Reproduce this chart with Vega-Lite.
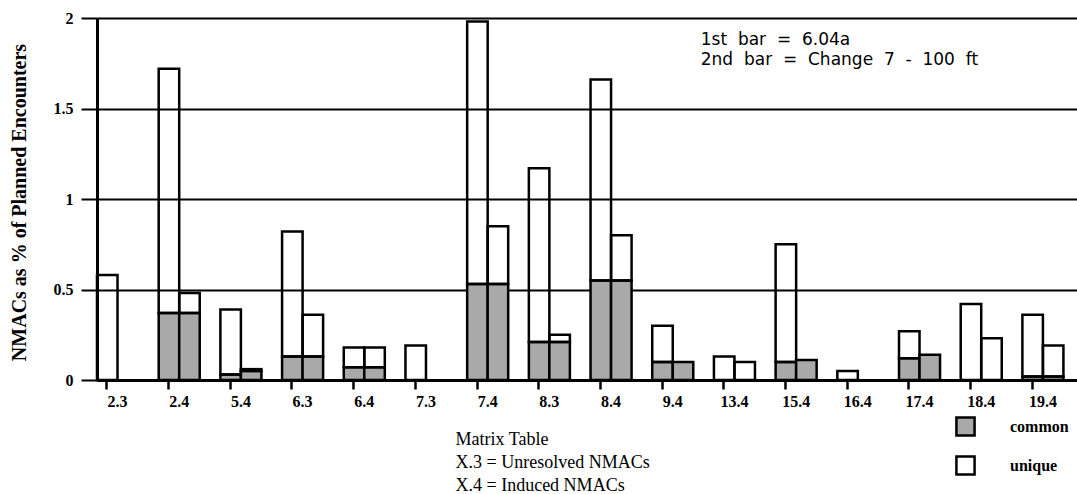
{
  "$schema": "https://vega.github.io/schema/vega-lite/v6.json",
  "width": 980,
  "height": 362,
  "autosize": "none",
  "padding": {"left": 97, "top": 18, "right": 0, "bottom": 114},
  "background": "white",
  "config": {"view": {"stroke": null}, "font": "Liberation Serif"},
  "data": {
    "values": [
      {"matrix": "2.3", "bar": "1st", "type": "unique", "value": 0.58},
      {"matrix": "2.4", "bar": "1st", "type": "common", "value": 0.37},
      {"matrix": "2.4", "bar": "1st", "type": "unique", "value": 1.35},
      {"matrix": "2.4", "bar": "2nd", "type": "common", "value": 0.37},
      {"matrix": "2.4", "bar": "2nd", "type": "unique", "value": 0.11},
      {"matrix": "5.4", "bar": "1st", "type": "common", "value": 0.03},
      {"matrix": "5.4", "bar": "1st", "type": "unique", "value": 0.36},
      {"matrix": "5.4", "bar": "2nd", "type": "common", "value": 0.05},
      {"matrix": "5.4", "bar": "2nd", "type": "unique", "value": 0.01},
      {"matrix": "6.3", "bar": "1st", "type": "common", "value": 0.13},
      {"matrix": "6.3", "bar": "1st", "type": "unique", "value": 0.69},
      {"matrix": "6.3", "bar": "2nd", "type": "common", "value": 0.13},
      {"matrix": "6.3", "bar": "2nd", "type": "unique", "value": 0.23},
      {"matrix": "6.4", "bar": "1st", "type": "common", "value": 0.07},
      {"matrix": "6.4", "bar": "1st", "type": "unique", "value": 0.11},
      {"matrix": "6.4", "bar": "2nd", "type": "common", "value": 0.07},
      {"matrix": "6.4", "bar": "2nd", "type": "unique", "value": 0.11},
      {"matrix": "7.3", "bar": "1st", "type": "unique", "value": 0.19},
      {"matrix": "7.4", "bar": "1st", "type": "common", "value": 0.53},
      {"matrix": "7.4", "bar": "1st", "type": "unique", "value": 1.45},
      {"matrix": "7.4", "bar": "2nd", "type": "common", "value": 0.53},
      {"matrix": "7.4", "bar": "2nd", "type": "unique", "value": 0.32},
      {"matrix": "8.3", "bar": "1st", "type": "common", "value": 0.21},
      {"matrix": "8.3", "bar": "1st", "type": "unique", "value": 0.96},
      {"matrix": "8.3", "bar": "2nd", "type": "common", "value": 0.21},
      {"matrix": "8.3", "bar": "2nd", "type": "unique", "value": 0.04},
      {"matrix": "8.4", "bar": "1st", "type": "common", "value": 0.55},
      {"matrix": "8.4", "bar": "1st", "type": "unique", "value": 1.11},
      {"matrix": "8.4", "bar": "2nd", "type": "common", "value": 0.55},
      {"matrix": "8.4", "bar": "2nd", "type": "unique", "value": 0.25},
      {"matrix": "9.4", "bar": "1st", "type": "common", "value": 0.1},
      {"matrix": "9.4", "bar": "1st", "type": "unique", "value": 0.2},
      {"matrix": "9.4", "bar": "2nd", "type": "common", "value": 0.1},
      {"matrix": "13.4", "bar": "1st", "type": "unique", "value": 0.13},
      {"matrix": "13.4", "bar": "2nd", "type": "unique", "value": 0.1},
      {"matrix": "15.4", "bar": "1st", "type": "common", "value": 0.1},
      {"matrix": "15.4", "bar": "1st", "type": "unique", "value": 0.65},
      {"matrix": "15.4", "bar": "2nd", "type": "common", "value": 0.11},
      {"matrix": "16.4", "bar": "1st", "type": "unique", "value": 0.05},
      {"matrix": "17.4", "bar": "1st", "type": "common", "value": 0.12},
      {"matrix": "17.4", "bar": "1st", "type": "unique", "value": 0.15},
      {"matrix": "17.4", "bar": "2nd", "type": "common", "value": 0.14},
      {"matrix": "18.4", "bar": "1st", "type": "unique", "value": 0.42},
      {"matrix": "18.4", "bar": "2nd", "type": "unique", "value": 0.23},
      {"matrix": "19.4", "bar": "1st", "type": "common", "value": 0.02},
      {"matrix": "19.4", "bar": "1st", "type": "unique", "value": 0.34},
      {"matrix": "19.4", "bar": "2nd", "type": "common", "value": 0.02},
      {"matrix": "19.4", "bar": "2nd", "type": "unique", "value": 0.17}
    ]
  },
  "layer": [
    {
      "mark": {"type": "bar", "stroke": "black", "strokeWidth": 2.5},
      "encoding": {
        "x": {
          "field": "matrix",
          "type": "nominal",
          "sort": ["2.3", "2.4", "5.4", "6.3", "6.4", "7.3", "7.4", "8.3", "8.4", "9.4", "13.4", "15.4", "16.4", "17.4", "18.4", "19.4"],
          "scale": {"paddingInner": 0.335, "paddingOuter": 0.11, "align": 0},
          "axis": {
            "title": ["Matrix Table", "X.3 = Unresolved NMACs", "X.4 = Induced NMACs"],
            "titleAnchor": "start",
            "titleAlign": "left",
            "titleX": 358,
            "titleY": 50,
            "titleBaseline": "top",
            "titleLineHeight": 23,
            "titleFont": "Liberation Serif",
            "titleFontWeight": "normal",
            "titleFontSize": 18,
            "titleColor": "black",
            "labelAngle": 0,
            "labelFont": "Liberation Serif",
            "labelFontWeight": "bold",
            "labelFontSize": 16,
            "labelColor": "black",
            "labelPadding": 4,
            "bandPosition": 0.24,
            "tickSize": 9,
            "tickWidth": 2.5,
            "tickColor": "black",
            "domainColor": "black",
            "domainWidth": 3,
            "grid": false
          }
        },
        "xOffset": {
          "field": "bar",
          "type": "nominal",
          "sort": ["1st", "2nd"],
          "scale": {"paddingInner": 0, "paddingOuter": 0}
        },
        "y": {
          "field": "value",
          "type": "quantitative",
          "stack": "zero",
          "scale": {"domain": [0, 2], "nice": false},
          "axis": {
            "values": [0, 0.5, 1, 1.5, 2],
            "format": "~g",
            "grid": true,
            "gridColor": "black",
            "gridWidth": 2,
            "gridOpacity": 1,
            "domainColor": "black",
            "domainWidth": 3,
            "tickColor": "black",
            "tickWidth": 2,
            "tickSize": 16,
            "labelFont": "Liberation Serif",
            "labelFontWeight": "bold",
            "labelFontSize": 16,
            "labelColor": "black",
            "labelPadding": 8,
            "title": "NMACs as % of Planned Encounters",
            "titleFont": "Liberation Serif",
            "titleFontWeight": "bold",
            "titleFontSize": 20,
            "titleColor": "black",
            "titleX": -78,
            "titleY": 184,
            "titleAngle": -90,
            "titleAlign": "center",
            "titleBaseline": "middle"
          }
        },
        "fill": {
          "field": "type",
          "type": "nominal",
          "scale": {"domain": ["common", "unique"], "range": ["#a9a9a9", "rgba(255,255,255,0)"]},
          "legend": {
            "title": null,
            "orient": "none",
            "legendX": 858,
            "legendY": 398,
            "direction": "vertical",
            "symbolType": "square",
            "symbolSize": 330,
            "symbolStrokeColor": "black",
            "symbolStrokeWidth": 2.5,
            "labelFont": "Liberation Serif",
            "labelFontWeight": "bold",
            "labelFontSize": 16,
            "labelColor": "black",
            "labelOffset": 34,
            "rowPadding": 10
          }
        },
        "order": {"field": "type", "sort": "ascending"}
      }
    },
    {
      "data": {"values": [{"note": "legend"}]},
      "mark": {
        "type": "text",
        "text": ["1st\u00a0 bar\u00a0 =\u00a0 6.04a", "2nd\u00a0 bar\u00a0 =\u00a0 Change\u00a0 7\u00a0 -\u00a0 100\u00a0 ft"],
        "font": "DejaVu Sans",
        "fontSize": 17,
        "align": "left",
        "baseline": "top",
        "lineHeight": 20,
        "color": "black",
        "dx": 28
      },
      "encoding": {
        "x": {"datum": "9.4"},
        "y": {"datum": 1.925}
      }
    }
  ]
}
